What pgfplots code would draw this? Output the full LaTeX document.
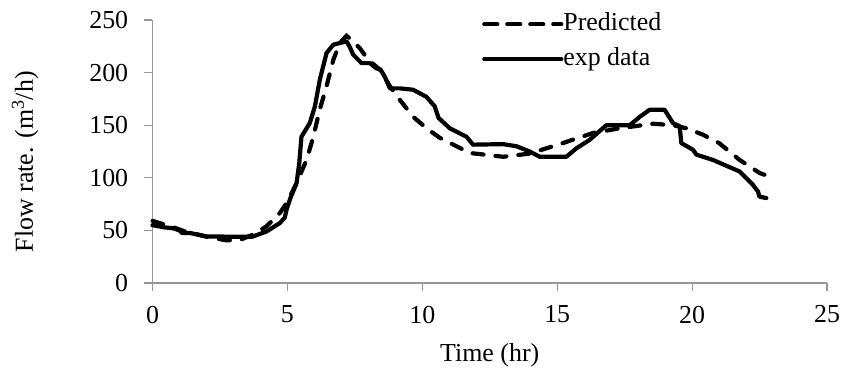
\documentclass[border=0pt]{standalone}
\usepackage{fontspec}
\setmainfont{Liberation Serif}
\usepackage{pgfplots}
\pgfplotsset{compat=1.18}
\definecolor{axgray}{RGB}{150,150,150}
\begin{document}
\fontsize{26}{30}\selectfont
\begin{tikzpicture}
\useasboundingbox (-152.5bp,-89bp) rectangle (693.5bp,283bp);
\begin{axis}[
  scale only axis,
  width=674.5bp, height=263bp,
  xmin=0, xmax=25, ymin=0, ymax=250,
  xtick={0,5,...,25}, ytick={0,50,...,250},
  axis lines=left,
  axis line style={axgray, line width=1.2bp, -},
  tick style={axgray, line width=1.2bp},
  tick align=outside,
  major tick length=8bp,
  /pgf/number format/assume math mode=true,
  ticklabel style={font=\fontsize{26}{30}\selectfont},
  xticklabel style={yshift=-6bp},
  yticklabel style={xshift=-7.5bp},
  xlabel={Time (hr)},
  ylabel={Flow rate. (m\textsuperscript{3}/h)},
  label style={font=\fontsize{26}{30}\selectfont},
  xlabel style={at={(axis description cs:0.5,-0.2966)}, anchor=base},
  ylabel style={at={(axis description cs:-0.189,0.461)}, anchor=center},
  legend style={at={(axis description cs:0.4885,1.03)}, anchor=north west, draw=none, fill=none,
    font=\fontsize{26}{30}\selectfont, row sep=11bp, inner sep=0pt,
    nodes={inner sep=0pt, text height=18bp, text depth=6bp},
    legend cell align=left},
  legend image code/.code={\draw[#1] (2bp,0bp) -- (61bp,0bp); \path (0bp,0bp) -- (77bp,0bp);},
  clip=false,
]
\addplot[black, line width=4.2bp, line cap=round, dash pattern=on 11bp off 12bp] coordinates {
(0,59) (0.77,53) (1.2,49) (2.0,44) (2.75,40.5) (3.24,41) (3.73,46) (4.23,54) (4.72,66.5) (4.97,76) (5.34,95) (5.71,117) (5.96,139) (6.2,165) (6.45,187) (6.7,212) (6.94,228) (7.19,235) (7.44,229.7) (7.69,223) (8.0,212) (8.43,202.8) (8.8,187) (9.17,174) (9.66,158) (10.16,147) (10.65,138) (11.76,123.6) (13,120) (13.98,123) (15.21,133) (16.33,142.6) (17.3,147) (18.55,151.4) (19.29,150) (19.8,147) (20.4,141) (21.0,133) (21.76,117) (22.5,104.6) (22.99,99.8)
};
\addlegendentry{Predicted}
\addplot[black, line width=4.2bp, line join=round, line cap=round] coordinates {
(0,55) (0.4,53) (0.77,52) (1.0,50) (1.1,47.5) (1.4,47.5) (2.0,44.3) (3.0,44) (3.7,44) (4.23,49) (4.72,57) (4.9,62) (4.97,69.7) (5.1,80) (5.34,95) (5.44,114) (5.52,139) (5.83,152) (6.02,168) (6.2,193) (6.45,218.6) (6.7,226.5) (7.19,229.7) (7.3,225) (7.44,217) (7.75,209) (8.06,209) (8.2,206) (8.3,204) (8.45,203) (8.61,196) (8.8,185) (9.18,185) (9.66,183.7) (10.15,177) (10.46,168) (10.6,157) (11.02,147) (11.64,139) (11.88,131.5) (12.99,132) (13.49,130) (13.98,125) (14.35,120) (15.34,120) (15.71,128) (16.2,136) (16.82,150) (17.69,150) (18.06,158) (18.43,164.7) (18.98,164.7) (19.29,152) (19.54,149) (19.6,133) (20.03,126.7) (20.16,122) (20.77,117) (21.76,106) (22.25,93.4) (22.44,87) (22.5,82) (22.75,80.8)
};
\addlegendentry{exp data}
\end{axis}
\end{tikzpicture}
\end{document}
